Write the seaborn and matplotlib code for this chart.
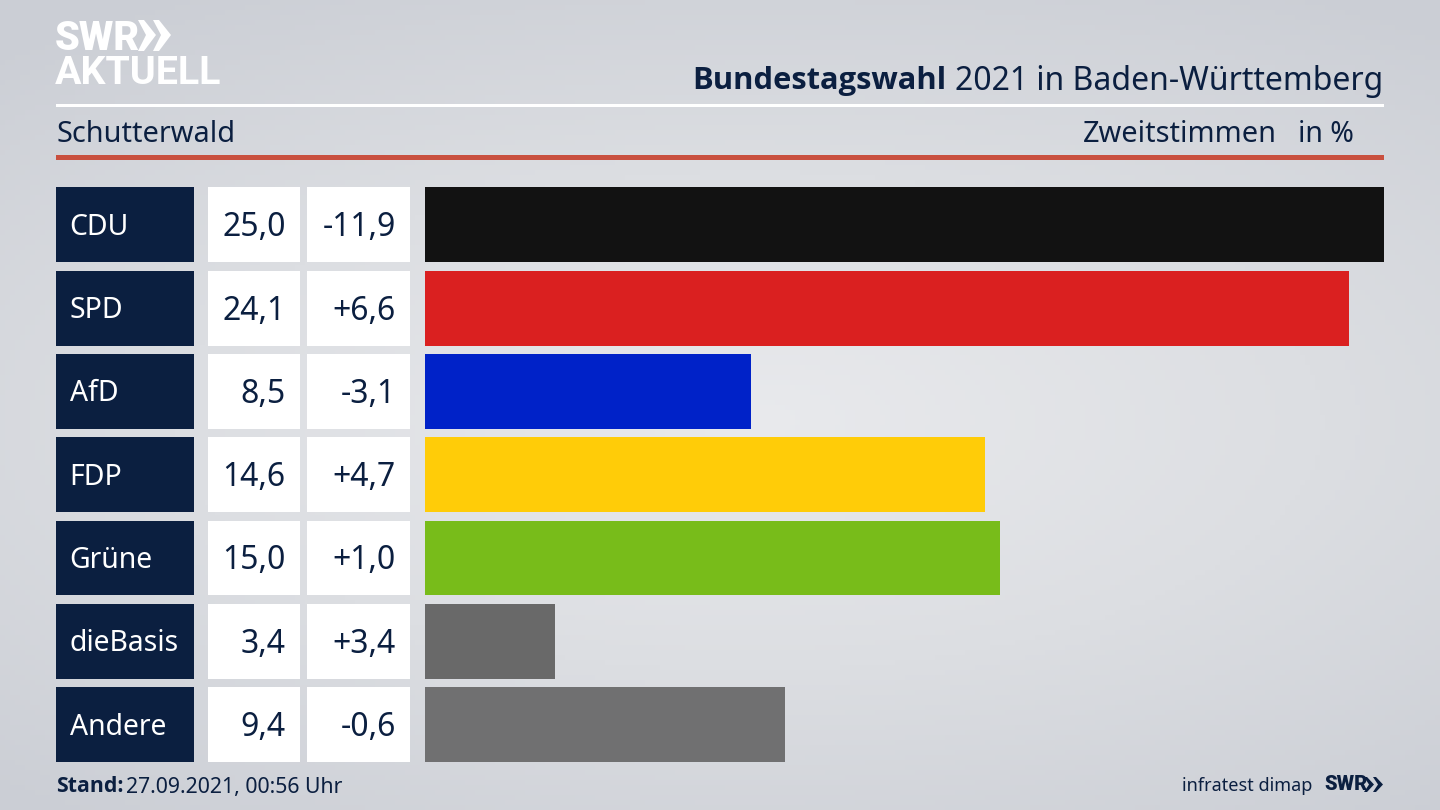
import numpy as np
import matplotlib
matplotlib.use("Agg")
import matplotlib.pyplot as plt
from matplotlib.colors import LinearSegmentedColormap
from matplotlib.patches import Rectangle, Polygon
from matplotlib.transforms import blended_transform_factory, ScaledTranslation
import pandas as pd
import seaborn as sns

parties = ["CDU", "SPD", "AfD", "FDP", "Grüne", "dieBasis", "Andere"]
shares = [25.0, 24.1, 8.5, 14.6, 15.0, 3.4, 9.4]
changes = ["-11,9", "+6,6", "-3,1", "+4,7", "+1,0", "+3,4", "-0,6"]
bar_colors = ["#121212", "#da2020", "#0022c8", "#ffcc08", "#78bc1a", "#696969", "#707071"]

NAVY = "#0b1f40"
W, H = 1440, 810

sns.set_theme(style="white")
plt.rcParams["font.family"] = ["Noto Sans", "DejaVu Sans"]

fig = plt.figure(figsize=(14.4, 8.1), dpi=100)


def px_axes(left, top, right, bottom, **kw):
    return fig.add_axes([left / W, 1 - bottom / H, (right - left) / W, (bottom - top) / H], **kw)


# background gradient and pixel canvas
bg = px_axes(0, 0, W, H)
yy, xx = np.mgrid[0:1:162j, 0:1:288j]
dist = np.sqrt(((xx - 0.52) / 0.8) ** 2 + ((yy - 0.52) / 0.62) ** 2)
bg_cmap = LinearSegmentedColormap.from_list("bg", ["#e9eaed", "#dcdee2", "#cbced5"])
bg.imshow(np.clip(dist, 0, 1), cmap=bg_cmap, vmin=0, vmax=1, extent=(0, W, H, 0), aspect="auto")
bg.set_xlim(0, W)
bg.set_ylim(H, 0)
bg.axis("off")

# header
bg.text(55, 38, "SWR", color="white", fontsize=28.5, fontweight="black", va="center", ha="left", family="Roboto")
for x0 in (138, 153):
    bg.add_patch(Polygon([(x0, 20), (x0 + 6, 20), (x0 + 18, 35), (x0 + 6, 51), (x0, 51), (x0 + 8, 35)], color="white", lw=0))
bg.text(55, 74, "AKTUELL", color="white", fontsize=28.4, fontweight="bold", va="center", ha="left", family="Roboto")
bg.add_patch(Rectangle((56, 104), 1328, 3, color="white", lw=0))
bg.add_patch(Rectangle((56, 155), 1328, 5, color="#c9503f", lw=0))

title = bg.text(1383, 81, "2021 in Baden-Württemberg", color=NAVY, fontsize=23, va="center", ha="right")
fig.canvas.draw()
title_box = title.get_window_extent()
bg.text(title_box.x0 - 8, 81, "Bundestagswahl", color=NAVY, fontsize=22.2, fontweight="bold", va="center", ha="right",
        family="Open Sans")

bg.text(56, 134, "Schutterwald", color=NAVY, fontsize=20.8, va="center", ha="left")
bg.text(1277, 134, "Zweitstimmen", color=NAVY, fontsize=20.8, va="center", ha="right")
bg.text(1354, 134, "in %", color=NAVY, fontsize=20.5, va="center", ha="right")

# bars
ax = px_axes(424.5, 187.5 - 0.05, 1384, 762)
ax.patch.set_alpha(0)
df = pd.DataFrame({"party": parties, "share": shares})
sns.barplot(data=df, y="party", x="share", hue="party", palette=bar_colors, order=parties,
            width=0.9, dodge=False, legend=False, saturation=1, linewidth=0, ax=ax)
ax.set_xlim(0, 25)
ax.set_ylim(6.45, -0.45)
ax.axis("off")

# table cells share the bars' y scale
row_tr = blended_transform_factory(bg.transData, ax.transData)
text_tr = row_tr + ScaledTranslation(0, 1 / 100, fig.dpi_scale_trans)
for i, party in enumerate(parties):
    ax_cells = [(56, 193.5, NAVY), (208, 299.5, "white"), (307, 410, "white")]
    for x0, x1, color in ax_cells:
        bg.add_patch(Rectangle((x0, i - 0.45), x1 - x0, 0.9, transform=row_tr, color=color, lw=0))
    bg.text(69.5, i, party, transform=text_tr, color="white", fontsize=20.4, va="center_baseline", ha="left")
    bg.text(285.5, i, f"{shares[i]:.1f}".replace(".", ","), transform=text_tr, color=NAVY, fontsize=23,
            va="center_baseline", ha="right")
    bg.text(396, i, changes[i], transform=text_tr, color=NAVY, fontsize=23, va="center_baseline", ha="right")

# footer
stand = bg.text(56, 787, "Stand:", color=NAVY, fontsize=15.3, fontweight="bold", va="center", ha="left", family="Open Sans")
fig.canvas.draw()
bg.text(stand.get_window_extent().x1 + 3, 787, "27.09.2021, 00:56 Uhr", color=NAVY, fontsize=15.3, va="center", ha="left")
bg.text(1312, 786, "infratest dimap", color=NAVY, fontsize=13, va="center", ha="right")
bg.text(1324, 785, "SWR", color=NAVY, fontsize=14.5, fontweight="black", va="center", ha="left", family="Roboto")
for x0 in (1364, 1373):
    bg.add_patch(Polygon([(x0, 777), (x0 + 3, 777), (x0 + 10, 784.5), (x0 + 3, 792), (x0, 792), (x0 + 5, 784.5)], color=NAVY, lw=0))

fig.savefig("out.png", dpi=100)
